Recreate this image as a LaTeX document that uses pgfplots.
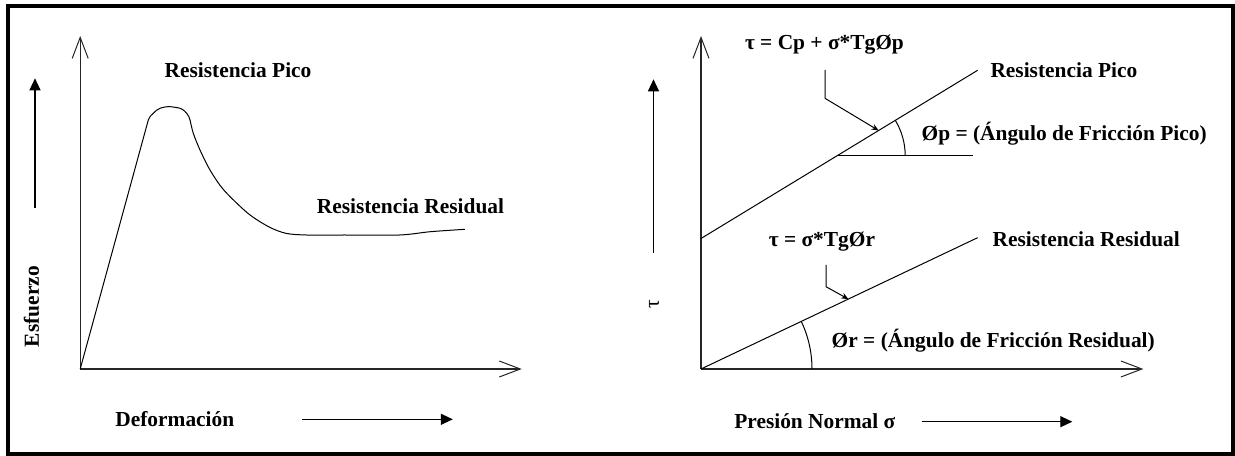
\documentclass[border=0pt]{standalone}
\usepackage{fontspec}
\setmainfont{Liberation Serif}
\usepackage{pgfplots}
\pgfplotsset{compat=1.18}
\usetikzlibrary{arrows.meta}
\begin{document}
\begin{tikzpicture}[every node/.style={font=\fontsize{10.7}{13}\selectfont\bfseries, inner sep=0pt, outer sep=0pt}]
\useasboundingbox (0,0) rectangle (617.5pt,227.5pt);
\draw[line width=2pt] (4pt,0.75pt) rectangle (616.25pt,224.25pt);
\pgfplotsset{
  diag/.style={
    x=0.5pt, y=0.5pt, xmin=0, ymin=0, ymax=333,
    axis lines=left, xtick=\empty, ytick=\empty,
    axis line style={line width=0.6pt, draw=black!85,
      -{Straight Barb[length=10.5pt,width=8pt,line width=0.5pt]}},
    clip=false, anchor=south west,
  }
}
% ---------- left panel: stress vs strain ----------
\begin{axis}[diag, at={(40.1pt,43pt)}, xmax=441.5]
\addplot[black, line width=0.5pt] coordinates {(0,0) (68.1,249)};
\addplot[black, line width=0.5pt, smooth, tension=0.5] coordinates {
(68.1,249) (70.3,253) (73.1,255.7) (76.3,258.7) (79.8,260.7) (84.8,262)
(89.8,262.3) (94.8,261.7) (99.8,260.7) (103.8,258.5) (106.5,255.7)
(108.6,252.5) (109.8,249) (113.1,235.7) (119.8,219) (129.8,199)
(143.6,179) (167.7,155.7) (188.4,142.3) (205.6,135.7) (226.3,134)
(264.2,134) (319.2,134) (350.2,137.3) (384.7,139.7)};
\end{axis}
% ---------- right panel: Mohr-Coulomb envelopes ----------
\begin{axis}[diag, at={(350.5pt,43pt)}, xmax=442.3]
\addplot[black, line width=0.5pt] coordinates {(0,130.5) (276.6,298.7)};
\addplot[black, line width=0.5pt] coordinates {(0,0) (276.6,131.3)};
\addplot[black, line width=0.5pt] coordinates {(136.2,213.3) (272.3,213.3)};
\addplot[black, line width=0.5pt, -{Stealth[length=3.5pt,width=3pt]}] coordinates {(124,299) (124,270.7) (177.6,238.5)};
\addplot[black, line width=0.5pt, -{Stealth[length=3.5pt,width=3pt]}] coordinates {(125,104) (125,82.3) (147.3,69.9)};
\draw[line width=0.5pt] (axis cs:204.2,213.3) arc[start angle=0, end angle=31.3, radius=34pt];
\draw[line width=0.5pt] (axis cs:111,0) arc[start angle=0, end angle=25.4, radius=55.5pt];
\end{axis}
% ---------- labels (pixel coordinates) ----------
\begin{scope}[x=0.5pt, y=-0.5pt, shift={(0pt,227.5pt)}]
\node[anchor=base west] at (164.6,77.3) {Resistencia Pico};
\node[anchor=base west] at (316.8,213.3) {Resistencia Residual};
\node[rotate=90] at (31.5,306.7) {Esfuerzo};
\draw[line width=0.6pt, -{Triangle[length=6pt,width=5.5pt]}] (35,208) -- (35,78.3);
\node[anchor=base west] at (115.4,426.7) {Deformación};
\draw[line width=0.6pt, -{Triangle[length=6pt,width=5.5pt]}] (302.3,419.3) -- (452.8,419.3);
%
\node[anchor=base west] at (745,50) {τ = Cp + σ*TgØp};
\node[anchor=base west] at (990.5,78) {Resistencia Pico};
\node[anchor=base west] at (921.6,141) {Øp = (Ángulo de Fricción Pico)};
\node[anchor=base west] at (768.8,247) {τ = σ*TgØr};
\node[anchor=base west] at (992.6,246.7) {Resistencia Residual};
\node[anchor=base west] at (831.7,348) {Ør = (Ángulo de Fricción Residual)};
\node[rotate=90, font=\fontsize{10.7}{13}\selectfont] at (654,304) {τ};
\draw[line width=0.6pt, -{Triangle[length=6pt,width=5.5pt]}] (653.5,253) -- (653.5,79.3);
\node[anchor=base west] at (734.3,428) {Presión Normal σ};
\draw[line width=0.6pt, -{Triangle[length=6pt,width=5.5pt]}] (921.6,421.7) -- (1072.3,421.7);
\end{scope}
\end{tikzpicture}
\end{document}
